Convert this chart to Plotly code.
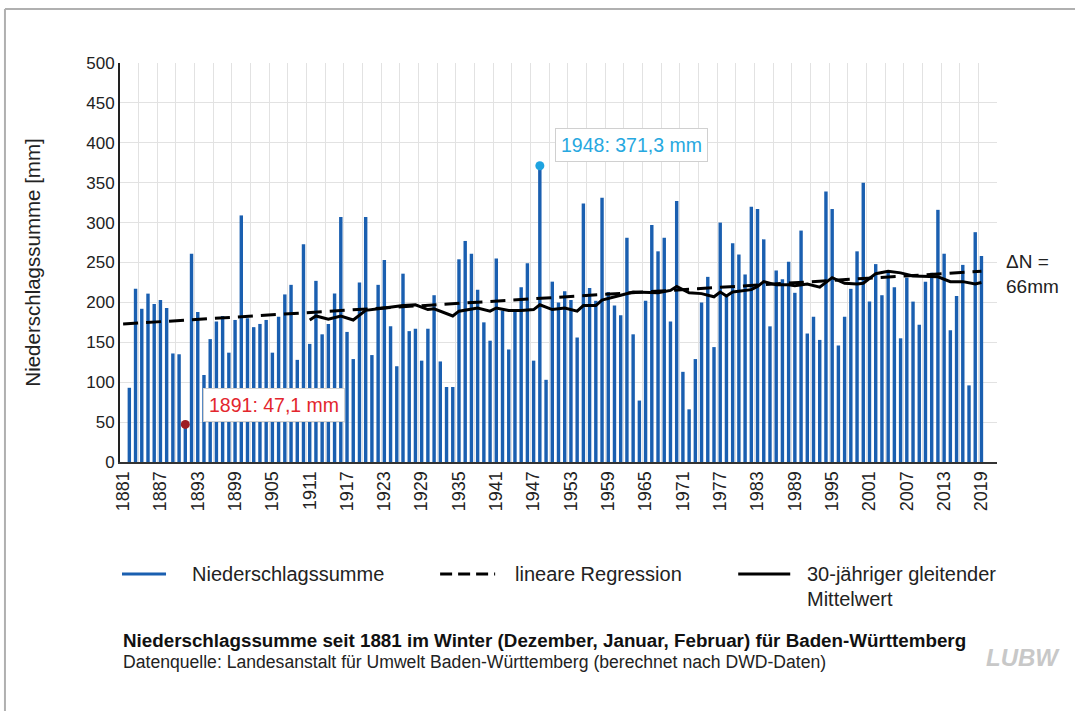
import plotly.graph_objects as go

# winter precipitation sums (mm), winters 1882..2019 (Dec-Feb)
years = list(range(1882, 2020))
precip = [
    93, 217, 192, 211, 198, 203, 193, 136, 135, 47.1,
    261, 188, 109, 154, 176, 183, 137, 178, 309, 180,
    169, 173, 178, 137, 182, 210, 222, 128, 273, 148,
    227, 160, 173, 211, 307, 163, 129, 225, 307, 134,
    222, 253, 170, 120, 236, 164, 167, 127, 167, 209,
    126, 94, 94, 254, 277, 261, 216, 175, 152, 255,
    190, 141, 189, 219, 249, 127, 371.3, 103, 226, 200,
    214, 203, 156, 324, 218, 202, 331, 213, 196, 184,
    281, 160, 77, 202, 297, 264, 281, 176, 327, 113,
    66, 129, 200, 232, 144, 300, 210, 274, 260, 235,
    320, 317, 279, 170, 240, 229, 251, 212, 290, 161,
    182, 153, 339, 317, 146, 182, 217, 264, 350, 201,
    248, 209, 237, 219, 155, 231, 201, 172, 226, 237,
    316, 261, 165, 208, 247, 96, 288, 258,
]

# linear regression end points
reg_years = [1881, 2019]
reg_values = [173, 239]

# 30-year moving average
ma_years = [1911, 1912, 1914, 1916, 1918, 1920, 1923, 1926, 1928, 1930, 1931, 1934, 1935,
            1937, 1938, 1940, 1941, 1943, 1945, 1947, 1948, 1950, 1952, 1954, 1955, 1957,
            1958, 1961, 1963, 1967, 1969, 1970, 1972, 1974, 1976, 1977, 1978, 1979, 1982,
            1983, 1984, 1986, 1988, 1989, 1991, 1993, 1995, 1997, 1999, 2000, 2002, 2004,
            2006, 2008, 2011, 2012, 2014, 2016, 2018, 2019]
ma_values = [178, 183, 179, 183, 178, 190, 193, 196, 197, 191, 192, 183, 189,
             192, 193, 189, 193, 190, 190, 191, 197, 191, 193, 189, 196, 196,
             203, 209, 213, 212, 215, 220, 212, 211, 207, 213, 208, 213, 216,
             220, 226, 222, 222, 221, 223, 219, 231, 224, 223, 224, 236, 239,
             237, 233, 232, 232, 226, 226, 223, 225]

tick_years = list(range(1881, 2020, 6))
y_ticks = list(range(0, 501, 50))

min_year, min_val = 1891, 47.1
max_year, max_val = 1948, 371.3

FONT = "Liberation Sans, Arial, sans-serif"
BLUE = "#1a5fb0"

fig = go.Figure()

fig.add_trace(go.Bar(x=years, y=precip, width=0.55, marker_color=BLUE,
                     marker_line_width=0, name="Niederschlagssumme"))
fig.add_trace(go.Scatter(x=reg_years, y=reg_values, mode="lines",
                         line=dict(color="black", width=3, dash="15px,8px"),
                         name="lineare Regression"))
fig.add_trace(go.Scatter(x=ma_years, y=ma_values, mode="lines",
                         line=dict(color="black", width=3),
                         name="30-jähriger gleitender Mittelwert"))
fig.add_trace(go.Scatter(x=[min_year], y=[min_val], mode="markers",
                         marker=dict(color="#9e1c24", size=9)))
fig.add_trace(go.Scatter(x=[max_year], y=[max_val], mode="markers",
                         marker=dict(color="#1ea3e0", size=9)))

# plot-area pixel geometry helpers for paper coords
L, R, T, B = 120, 996.7, 63, 462
def px(xp):
    return (xp - L) / (R - L)
def py(yp):
    return (B - yp) / (B - T)


def note(xp, yp, text, size, color="#222", xanchor="left"):
    return dict(x=px(xp), y=py(yp), xref="paper", yref="paper", text=text,
                showarrow=False, xanchor=xanchor, yanchor="middle", align="left",
                font=dict(size=size, family=FONT, color=color))


annotations = [
    dict(x=1905.3, y=71, xref="x", yref="y", text="1891: 47,1 mm", showarrow=False,
         font=dict(color="#e3262d", size=19.5, family=FONT), bgcolor="white",
         bordercolor="#d0d0d0", borderwidth=1, borderpad=5),
    dict(x=1962.7, y=397, xref="x", yref="y", text="1948: 371,3 mm", showarrow=False,
         font=dict(color="#27a8e0", size=19.5, family=FONT), bgcolor="white",
         bordercolor="#d0d0d0", borderwidth=1, borderpad=5),
    note(1004, 274, "ΔN =<br>66mm", 19),
    # legend
    note(190, 574, "Niederschlagssumme", 20),
    note(513, 574, "lineare Regression", 20),
    note(805, 574, "30-jähriger gleitender", 20),
    note(805, 599, "Mittelwert", 20),
    # title block
    note(121, 640, "<b>Niederschlagssumme seit 1881 im Winter (Dezember, Januar, Februar) "
                   "für Baden-Württemberg</b>", 18.8, "#111"),
    note(121, 662, "Datenquelle: Landesanstalt für Umwelt Baden-Württemberg "
                   "(berechnet nach DWD-Daten)", 17.6),
    note(1062, 657, "<b><i>LUBW</i></b>", 24, "#c8c8c8", xanchor="right"),
]

shapes = [
    dict(type="line", xref="paper", yref="paper", x0=px(122), x1=px(166),
         y0=py(574), y1=py(574), line=dict(color=BLUE, width=3)),
    dict(type="line", xref="paper", yref="paper", x0=px(440), x1=px(495),
         y0=py(574), y1=py(574), line=dict(color="black", width=3, dash="12px,6px")),
    dict(type="line", xref="paper", yref="paper", x0=px(738), x1=px(790),
         y0=py(574), y1=py(574), line=dict(color="black", width=3)),
    # outer frame (left and top)
    dict(type="line", xref="paper", yref="paper", x0=px(5), x1=px(5),
         y0=py(9), y1=py(715), line=dict(color="#b0b0b0", width=2)),
    dict(type="line", xref="paper", yref="paper", x0=px(5), x1=px(1080),
         y0=py(9), y1=py(9), line=dict(color="#b0b0b0", width=2)),
]

fig.update_layout(
    width=1075, height=711,
    margin=dict(l=L, r=1075 - R, t=T, b=711 - B),
    paper_bgcolor="white", plot_bgcolor="white",
    showlegend=False,
    annotations=annotations,
    shapes=shapes,
    font=dict(family=FONT, color="#222"),
    bargap=0.5,
)

fig.update_xaxes(
    range=[1880.5, 2021.5],
    tickvals=tick_years, ticktext=[str(t) for t in tick_years],
    tickangle=-90, tickfont=dict(size=18, family=FONT, color="#222"),
    showgrid=False, zeroline=False,
    showline=True, linecolor="#333", linewidth=2,
    ticks="",
    minor=dict(tick0=1880.5, dtick=3, showgrid=True, gridcolor="#e2e2e2", gridwidth=1),
)
fig.update_yaxes(
    range=[0, 500], tickvals=y_ticks,
    tickfont=dict(size=17, family=FONT, color="#222"),
    showgrid=True, gridcolor="#e2e2e2", gridwidth=1, zeroline=False,
    showline=True, linecolor="#222", linewidth=2,
    title=dict(text="Niederschlagssumme [mm]", font=dict(size=20.5, family=FONT, color="#222"),
               standoff=40),
)

# page has a default 8px body margin; drop it so the figure sits at the window origin
fig.write_html("out.html", config={"displayModeBar": False},
               post_script="document.body.style.margin='0';")
